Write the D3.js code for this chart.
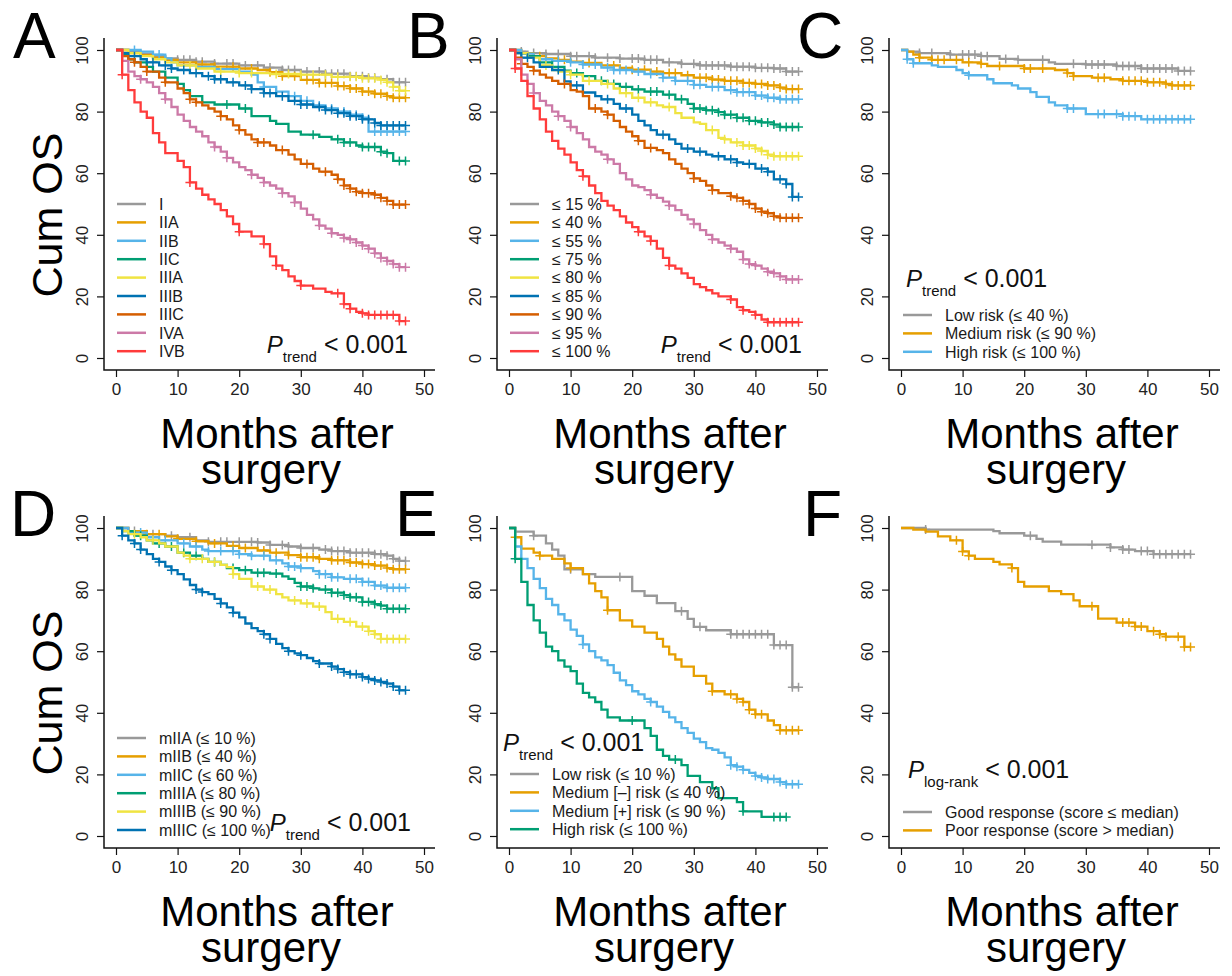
<!DOCTYPE html>
<html>
<head>
<meta charset="utf-8">
<script src="https://cdn.jsdelivr.net/npm/d3@7"></script>
<style>
  body { margin: 0; background: #fff; }
  text { font-family: "Liberation Sans", Arial, sans-serif; }
</style>
</head>
<body>
<script>
//////////DATA//////////
const monthTicks = [0, 10, 20, 30, 40, 50];
const osTicks = [0, 20, 40, 60, 80, 100];

// A : stage
const stageLabels = ["I", "IIA", "IIB", "IIC", "IIIA", "IIIB", "IIIC", "IVA", "IVB"];
const stageColors = ["#999999", "#E69F00", "#56B4E9", "#009E73", "#F0E442", "#0072B2", "#D55E00", "#CC79A7", "#FF3B3B"];
const stageEnd = [47, 47, 47, 47, 47, 47, 47, 47, 47];
const stageSteps = [
  [[2,99.5],[4,98.8],[6,98],[8,97.3],[10,96.8],[13,96.2],[16,95.6],[20,95],[24,94.3],[27,93.5],[30,93],[34,92.3],[38,91.5],[41,91],[43,90.5],[45,89.5]],
  [[2,99],[4,98.3],[6,97.5],[8,96.8],[10,96],[13,95.3],[16,94.6],[20,94],[23,93.5],[25,92.8],[27,91.5],[30,90.3],[33,89.3],[36,88.3],[38,87.5],[40,86.5],[42,85.8],[44,85],[45,84.5]],
  [[4,99.5],[6,98.5],[8,97.3],[9,96],[10,95],[13,94.5],[16,93.8],[20,93],[22,92],[23,89.5],[24,88],[26,86.5],[28,85],[30,83.5],[32,82],[34,81],[36,80],[38,79],[40,78],[41,73.5]],
  [[1,98.5],[2,97],[3,96],[5,94.5],[6,93],[8,91],[10,89],[11,87],[12,85],[14,83],[16,82.3],[20,81],[22,78.5],[25,77],[26,76],[28,73.5],[30,72.5],[33,71.8],[35,71],[37,70],[39,69],[40,68.5],[43,67],[44,66.5],[45,64]],
  [[2,99],[4,98],[6,97],[8,96],[10,95],[13,94],[16,93],[20,92.5],[25,92.2],[30,92],[35,91.3],[40,90.8],[43,90.3],[44,89.5],[45,88],[46,86.8]],
  [[1,99],[2,98],[4,97],[5,96],[7,95],[9,94],[10,93.5],[12,92.5],[14,91.5],[16,90.5],[18,89.5],[20,88.5],[22,87.3],[24,86],[26,85],[28,83.5],[30,82.3],[32,81.5],[34,80.5],[36,79.5],[38,78.5],[40,77.5],[42,76.3],[43,75.5]],
  [[1,98],[2,97],[3,96],[4,94.5],[5,93],[7,91],[8,89.5],[10,87.5],[11,86],[12,84],[13,83],[14,82],[15,81],[16,80],[17,78.5],[18,77.5],[19,75.5],[20,74],[21,72.5],[22,71],[23,70],[25,69],[26,67.5],[28,66],[29,64.5],[30,63],[32,61.5],[33,60.5],[35,59.5],[36,58],[37,56],[38,55],[39,54],[40,53.5],[42,53],[43,52],[44,51],[45,49.8]],
  [[1,96.5],[2,93],[3,91.5],[4,90.5],[5,89.5],[6,88],[7,86],[8,84],[9,81.5],[10,79],[11,77],[12,75],[13,73.5],[14,72],[15,70],[16,68.5],[17,67],[18,65],[19,63.5],[20,62],[21,61],[22,59.5],[23,58.5],[24,57],[25,56],[26,55],[27,53.5],[28,52.5],[29,50.5],[30,48.5],[31,46.5],[32,45],[33,43],[34,42],[35,40.5],[36,40],[37,39],[38,38.5],[39,37.5],[40,36.5],[41,35.5],[42,34],[43,32.5],[44,31.5],[45,30.5],[46,29.5]],
  [[1,92],[2,87],[3,83],[4,80],[5,78],[6,73],[7,70],[8,66.5],[10,64],[11,62],[12,57],[13,55],[14,53],[15,51.5],[16,50],[17,48],[18,46],[19,43.5],[20,41],[22,39.5],[24,37],[25,33],[26,30],[27,28.5],[28,26.5],[29,25],[30,23.5],[32,22.5],[34,21.5],[35,21],[37,17.5],[38,16],[39,15],[40,14.5],[41,14],[46,12]]
];
const stageCensor = [
  [10,11,12,13,14,16,18,19,21,23,25,27,28,29,31,33,34,35,36,37,38,39,40,41,42,44,45,46,47],
  [14,16,19,22,25,27,29,31,32,33,34,35,36,37,38,39,40,41,42,43,44,45,46,47],
  [3,7,24,29,31,33,35,37,38,39,40,42,43,44,45,46,47],
  [18,21,32,36,37,38,40,41,42,43,44,46,47],
  [12,17,20,22,26,28,30,32,34,36,38,39,40,41,42,43,44,45,46,47],
  [3,6,8,9,11,13,15,16,17,19,21,22,24,25,27,29,30,31,33,34,35,36,37,38,39,40,41,42,43,44,45,46,47],
  [3,5,8,12,13,17,20,23,24,27,31,34,36,37,38,39,40,41,42,43,44,45,46,47],
  [4,8,16,18,22,24,27,29,33,35,37,38,39,40,41,42,43,44,45,46,47],
  [1,12,20,24,26,30,36,37,38,40,41,42,43,44,45,46,47]
];

// B : percentile groups
const pctLabels = ["≤ 15 %", "≤ 40 %", "≤ 55 %", "≤ 75 %", "≤ 80 %", "≤ 85 %", "≤ 90 %", "≤ 95 %", "≤ 100 %"];
const pctColors = ["#999999", "#E69F00", "#56B4E9", "#009E73", "#F0E442", "#0072B2", "#D55E00", "#CC79A7", "#FF3B3B"];
const pctEnd = [47, 47, 47, 47, 47, 47, 47, 47, 47];
const pctSteps = [
  [[1,99.5],[3,99],[6,98.7],[10,98],[14,97.5],[18,97.2],[22,96.8],[25,96],[28,95.5],[31,95],[36,94.6],[40,94.2],[43,94],[45,93]],
  [[2,99],[4,98],[6,97.3],[8,96.8],[10,96.2],[12,95.8],[15,95],[18,94.2],[20,93.6],[23,93],[25,92.5],[28,91.8],[30,91],[33,90.4],[35,90],[38,89.3],[40,89],[42,88.5],[44,87.8],[45,87.3]],
  [[2,98.8],[4,98],[5,97],[7,96.5],[10,96],[12,95.3],[15,94.3],[17,93.5],[20,93],[22,92.2],[25,91],[27,90],[30,88.7],[32,88],[35,87],[37,86.3],[40,85.2],[42,84.5],[44,84]],
  [[1,99],[3,98],[5,96],[7,94.5],[9,93.3],[10,92.5],[12,91.5],[14,90],[16,89],[18,88],[20,87.2],[22,86.5],[25,85.5],[27,84],[29,82.5],[30,81],[32,80.4],[34,79.8],[35,79],[37,78],[39,77],[41,76.5],[43,75.8],[44,75]],
  [[1,99],[3,97.5],[5,95],[7,93.5],[8,93],[10,92],[12,90],[15,89],[17,87.5],[18,86],[20,84.5],[22,83],[24,82],[25,81.5],[27,79.5],[28,78],[30,76.5],[31,76],[32,74],[34,71.5],[35,71],[36,70],[38,69],[40,68],[41,67.2],[42,66],[43,65.5]],
  [[1,99],[2,97.5],[4,96],[5,94.5],[7,93.5],[9,89.8],[10,88.5],[12,86.2],[14,85],[15,84],[17,82.5],[18,81],[20,79],[21,77],[22,75.5],[23,74],[24,72.5],[26,71],[27,69.5],[28,68],[30,67],[32,66],[33,65.5],[35,64.5],[37,63.5],[38,63],[40,61.5],[42,60.5],[43,58],[45,56.5],[46,52.3]],
  [[1,97.5],[2,95.5],[3,94.5],[4,93.3],[5,92],[6,91],[7,90],[8,89],[10,87],[11,86.5],[12,85],[13,81],[15,80],[16,79],[17,77],[18,75],[19,73.5],[20,72],[21,70.5],[22,68.2],[24,67.5],[25,66.5],[26,64.5],[27,63],[28,61.5],[29,60],[30,58.3],[31,57.5],[32,56],[33,54.5],[34,53.5],[36,52.5],[37,52],[38,51],[39,50],[40,48.5],[41,47.5],[42,47],[43,46],[44,45.5]],
  [[1,97],[2,92],[3,89],[4,86],[5,83.5],[6,82],[7,80],[8,78.5],[9,77],[10,75],[11,73],[12,71],[13,68.5],[14,67],[15,66],[16,64.5],[17,63],[18,60],[19,58],[20,56],[21,55.5],[22,54.5],[23,53],[24,52],[25,50.8],[26,49.5],[27,48],[28,46.5],[29,45],[30,43.5],[31,41.5],[32,40],[33,38.5],[34,37.5],[35,36.5],[36,35.5],[37,34.5],[38,32],[39,30.5],[40,30],[41,29],[42,28],[43,27.5],[44,26.5],[45,25.5]],
  [[1,94],[2,90],[3,85],[4,81],[5,77.5],[6,73.5],[7,70.5],[8,68],[9,66],[10,63.5],[11,61],[12,59],[13,56],[14,53.5],[15,51],[16,49.5],[17,48],[18,46],[19,44],[20,42.5],[21,41],[22,39.5],[23,38],[24,35.5],[25,32.5],[26,30],[27,29],[28,27.5],[29,26],[30,24],[31,23],[32,22],[33,21],[34,20],[36,19],[37,16.5],[38,15.5],[39,15],[40,14],[41,12.5],[42,11.6]]
];
const pctCensor = [
  [2,4,6,8,10,11,13,14,16,18,20,21,22,23,24,26,28,30,31,32,33,34,35,36,37,38,39,40,41,42,43,44,45,46,47],
  [5,9,13,17,20,22,24,26,27,29,31,32,33,34,35,36,37,38,39,40,41,42,43,44,45,46,47],
  [6,8,10,12,14,16,17,18,19,21,23,25,27,29,30,31,33,34,36,37,38,39,40,41,42,43,44,45,46,47],
  [11,15,17,19,21,23,24,26,28,30,31,32,33,34,35,36,37,38,39,40,41,42,43,44,45,46,47],
  [6,10,13,16,19,21,23,26,33,35,37,38,39,40,41,42,43,44,45,46,47],
  [3,8,11,16,19,25,29,31,34,36,37,39,41,42,44,45,46,47],
  [2,4,9,14,16,21,23,30,33,36,37,38,39,40,41,42,43,44,45,46,47],
  [4,8,10,16,23,26,30,33,36,38,39,40,42,43,44,45,46,47],
  [1,12,21,23,26,36,38,40,42,43,44,45,46,47]
];

// C : three risk groups
const riskLabels = ["Low risk (≤ 40 %)", "Medium risk (≤ 90 %)", "High risk (≤ 100 %)"];
const riskColors = ["#999999", "#E69F00", "#56B4E9"];
const riskEnd = [47, 47, 47];
const riskSteps = [
  [[1,99.5],[3,99],[8,98.5],[13,98],[16,97.1],[19,96.8],[24,96],[25,95.5],[30,95.3],[35,94.8],[39,94],[45,93.2]],
  [[1,99.5],[2,98.5],[3,97.5],[5,96.8],[10,96],[13,95.5],[14,94.8],[20,94],[25,93.5],[27,92.5],[28,91.5],[31,91],[34,90.5],[36,90],[40,89.5],[43,89],[44,88.5]],
  [[1,97],[2,95.7],[5,95],[6,94.5],[9,93.5],[10,92.5],[11,91.8],[14,90.5],[15,89.2],[18,88.5],[19,87.5],[21,86.3],[22,84.8],[24,83],[25,82],[27,81],[30,79.2],[36,78.5],[39,77.5]]
];
const riskCensor = [
  [3,5,8,10,11,12,13,14,17,19,23,28,30,31,32,33,35,36,37,38,39,40,41,42,43,44,45,46,47],
  [3,5,6,7,9,11,13,16,20,21,23,27,28,32,33,36,37,38,39,40,41,42,43,44,45,46,47],
  [1,2,11,27,28,32,33,35,36,37,38,40,41,42,43,44,45,46,47]
];

// D : modified stage
const mstageLabels = ["mIIA (≤ 10 %)", "mIIB (≤ 40 %)", "mIIC (≤ 60 %)", "mIIIA (≤ 80 %)", "mIIIB (≤ 90 %)", "mIIIC (≤ 100 %)"];
const mstageColors = ["#999999", "#E69F00", "#56B4E9", "#009E73", "#F0E442", "#0072B2"];
const mstageEnd = [47, 47, 47, 47, 47, 47];
const mstageSteps = [
  [[2,99],[5,98],[8,97.5],[10,97],[13,96],[15,95.5],[23,95.3],[25,94.5],[28,94],[30,93.5],[33,93],[35,92.5],[38,92],[42,91.5],[44,91],[45,90],[46,89.3]],
  [[2,99],[5,98],[8,97.3],[10,96.5],[13,95.7],[15,95],[18,94.2],[20,93.5],[23,92.7],[25,92],[28,91.2],[30,90.5],[33,90],[35,89.5],[38,88.8],[40,88.3],[42,87.8],[44,87],[45,86.6]],
  [[2,98.5],[5,97],[7,96],[10,95],[12,94],[14,93],[15,92.5],[20,91.5],[22,91],[25,89.5],[27,88.5],[28,87.5],[30,87],[32,86],[33,85],[35,84],[37,83.5],[40,82.5],[42,81.3],[44,80.6]],
  [[1,99],[3,97.5],[5,96],[6,95],[8,94],[10,92],[12,91],[14,90],[15,89],[17,88],[18,87],[20,86.3],[22,85.5],[25,85.2],[27,84.3],[28,83.5],[29,82.2],[30,81],[32,80.4],[33,80],[35,79],[37,78.2],[38,77.5],[40,76],[42,75.3],[43,74.8],[44,73.8]],
  [[1,99],[2,98],[4,97],[5,96],[7,95],[8,94],[10,92],[11,91],[12,90],[15,89],[17,88],[18,87.3],[19,85],[20,83.5],[22,81],[24,80],[26,78.5],[27,77.5],[28,76.5],[30,75.5],[32,74.5],[34,72.7],[35,70.5],[37,69.5],[39,68],[41,66.5],[42,65.5],[43,64]],
  [[1,97.5],[2,96],[3,95],[4,93],[5,91.5],[6,90],[7,89],[8,87.5],[9,86.3],[10,85],[11,83.3],[12,81.5],[13,80],[14,79.2],[15,78.5],[16,77],[17,75.5],[18,74.2],[19,72.5],[20,71],[21,69],[22,67.5],[23,66.5],[24,65.5],[25,64],[26,62.4],[27,61],[28,60],[29,59.3],[30,58.7],[31,57.8],[32,56.8],[33,56],[35,55],[36,54.2],[37,53.2],[38,52.5],[40,51.6],[41,51],[42,50.5],[43,50],[44,49.5],[45,48.5],[46,47.3]]
];
const mstageCensor = [
  [3,6,9,12,15,17,18,20,22,23,25,27,28,30,32,34,35,36,37,38,39,40,41,42,43,44,45,46,47],
  [5,7,10,13,16,19,21,24,26,28,30,31,32,33,35,36,37,38,39,40,41,42,43,44,45,46,47],
  [4,8,11,13,15,17,19,20,22,24,26,28,29,30,33,34,35,36,38,39,40,41,42,43,44,45,46,47],
  [4,7,9,11,13,16,19,21,23,24,26,30,31,32,34,35,36,37,38,39,40,41,42,43,44,45,46,47],
  [3,6,12,14,16,19,23,25,29,31,33,36,38,40,41,42,43,44,45,46,47],
  [1,3,4,7,9,13,14,17,19,24,25,28,30,33,35,36,37,38,39,40,41,42,43,44,45,46,47]
];

// E : four risk groups
const risk4Labels = ["Low risk (≤ 10 %)", "Medium [–] risk (≤ 40 %)", "Medium [+] risk (≤ 90 %)", "High risk (≤ 100 %)"];
const risk4Colors = ["#999999", "#E69F00", "#56B4E9", "#009E73"];
const risk4End = [47, 47, 47, 45];
const risk4Steps = [
  [[1,98.8],[4,97.5],[6,95],[7,93],[8,91],[9,86.6],[12,85],[14,84.1],[20,79.5],[22,78],[24,75.6],[27,73],[29,70.5],[30,67.9],[32,66.8],[36,65.5],[43,62],[46,48.3]],
  [[1,97],[2,93.3],[4,92],[5,91],[7,90],[9,88.5],[10,87],[12,85],[13,82],[14,79.5],[15,77.5],[16,73.3],[18,70],[20,68],[22,66],[24,64],[25,61.5],[26,59],[27,57.3],[28,55],[30,52],[32,49.5],[33,47],[35,46],[37,44.5],[38,43.5],[39,41],[40,39.5],[42,37.5],[43,36],[44,34.3]],
  [[1,94],[2,90],[3,87],[4,83.5],[5,80.5],[6,77],[7,75],[8,72],[9,70],[10,67],[11,65],[12,62.2],[13,60],[14,58],[15,57],[16,55.5],[17,53],[18,50.5],[19,49],[20,47],[21,46],[22,44.5],[23,43.5],[24,42],[25,40.3],[26,38.5],[27,37],[28,35],[29,33.5],[30,31.6],[31,30.5],[32,28.5],[33,28],[34,27],[35,25.5],[36,23],[37,22.5],[38,21.5],[39,20.5],[40,19.5],[41,19],[42,18.5],[44,17.5],[45,16.8]],
  [[1,90],[2,82.5],[3,75],[4,70],[5,66],[6,61.5],[7,60],[8,57],[9,55],[10,53.5],[11,49.5],[12,46.5],[13,45],[14,43.5],[15,41],[16,38.5],[18,37.5],[22,35],[23,32.5],[24,28],[25,26],[26,24.8],[28,23],[29,19.5],[31,17.5],[33,15.5],[34,12.3],[37,11],[38,8],[41,6.2]]
];
const risk4Censor = [
  [4,10,18,28,31,36,37,38,39,40,41,42,43,44,45,46,47],
  [1,5,10,16,33,36,37,38,39,40,41,44,45,46,47],
  [2,12,23,36,37,38,40,41,42,43,44,45,46,47],
  [1,20,27,38,43,44,45]
];

// F : response
const respLabels = ["Good response (score ≤ median)", "Poor response (score > median)"];
const respColors = ["#999999", "#E69F00"];
const respEnd = [47, 47];
const respSteps = [
  [[4,99.5],[15,99],[16,98.3],[20,97.5],[22,96.5],[23,95.6],[26,94.6],[34,93.7],[36,93],[38,92.5],[41,91.5]],
  [[2,99.5],[4,98.8],[6,97.3],[8,96],[10,92.4],[11,91],[12,90],[15,89],[16,88.2],[18,87],[19,82.5],[20,81],[24,79.5],[26,78.5],[28,76.5],[29,74.6],[32,70.6],[35,69.3],[38,68],[40,66.5],[42,65.5],[43,64.7],[46,61.4]]
];
const respCensor = [
  [4,21,31,34,36,37,39,40,41,42,43,44,45,46,47],
  [9,10,11,18,31,36,37,38,39,41,42,43,45,46,47]
];

//////////LAYOUT//////////
const svgObj = { width: 1232, height: 976 };
const colX = [104, 497, 889]; // y-axis line of each column
const rowY = [38, 516]; // top of y-axis line of each row

const panels = [
  { letter: "A", col: 0, row: 0, letterX: 13, labels: stageLabels, colors: stageColors, steps: stageSteps, censor: stageCensor, end: stageEnd,
    legendX: 13, legendY: 166, pAnchor: "end", pX: 304, pY: 315, sub: "trend", yTitle: true },
  { letter: "B", col: 1, row: 0, letterX: 407, labels: pctLabels, colors: pctColors, steps: pctSteps, censor: pctCensor, end: pctEnd,
    legendX: 13, legendY: 166, pAnchor: "end", pX: 305, pY: 315, sub: "trend" },
  { letter: "C", col: 2, row: 0, letterX: 797, labels: riskLabels, colors: riskColors, steps: riskSteps, censor: riskCensor, end: riskEnd,
    legendX: 14, legendY: 277, pAnchor: "start", pX: 17, pY: 249, sub: "trend" },
  { letter: "D", col: 0, row: 1, letterX: 10, labels: mstageLabels, colors: mstageColors, steps: mstageSteps, censor: mstageCensor, end: mstageEnd,
    legendX: 13, legendY: 222, pAnchor: "end", pX: 307, pY: 315, sub: "trend", yTitle: true },
  { letter: "E", col: 1, row: 1, letterX: 395, labels: risk4Labels, colors: risk4Colors, steps: risk4Steps, censor: risk4Censor, end: risk4End,
    legendX: 13, legendY: 258, pAnchor: "start", pX: 6, pY: 235, sub: "trend" },
  { letter: "F", col: 2, row: 1, letterX: 803, labels: respLabels, colors: respColors, steps: respSteps, censor: respCensor, end: respEnd,
    legendX: 14, legendY: 296, pAnchor: "start", pX: 19, pY: 262, sub: "log-rank" }
];

const svg = d3
  .select("body")
  .append("svg")
  .attr("width", svgObj.width)
  .attr("height", svgObj.height);

const survAt = (steps, t) => {
  let s = 100;
  steps.forEach((d) => {
    if (d[0] <= t) s = d[1];
  });
  return s;
};

const drawPanel = (p) => {
  const ax = colX[p.col];
  const top = rowY[p.row];
  const bottom = top + 332;

  const x = d3.scaleLinear().domain([0, 50]).range([ax + 12, ax + 320]);
  const y = d3.scaleLinear().domain([0, 100]).range([top + 320, top + 12]);

  const g = svg.append("g");

  // x axis
  const xAxis = g
    .append("g")
    .attr("transform", `translate(0, ${bottom})`)
    .call(d3.axisBottom(x).tickValues(monthTicks).tickSize(7).tickSizeOuter(0));
  xAxis.select(".domain").remove();
  xAxis.selectAll("line").attr("stroke", "#111").attr("stroke-width", 1.2);
  xAxis
    .selectAll("text")
    .attr("y", 25)
    .attr("dy", null)
    .attr("fill", "#222")
    .style("font-size", "17px")
    .style("font-family", "Liberation Sans, Arial, sans-serif");

  // y axis
  const yAxis = g
    .append("g")
    .attr("transform", `translate(${ax}, 0)`)
    .call(d3.axisLeft(y).tickValues(osTicks).tickSize(7).tickSizeOuter(0));
  yAxis.select(".domain").remove();
  yAxis.selectAll("line").attr("stroke", "#111").attr("stroke-width", 1.2);
  yAxis
    .selectAll("text")
    .attr("x", null)
    .attr("dy", null)
    .attr("text-anchor", "middle")
    .attr("transform", "translate(-16, 0) rotate(-90)")
    .attr("fill", "#222")
    .style("font-size", "17px")
    .style("font-family", "Liberation Sans, Arial, sans-serif");

  // L shaped box
  g.append("path")
    .attr("d", `M${ax},${top} V${bottom} H${ax + 331}`)
    .attr("fill", "none")
    .attr("stroke", "#111")
    .attr("stroke-width", 1.5);

  // curves
  const line = d3
    .line()
    .x((d) => x(d[0]))
    .y((d) => y(d[1]))
    .curve(d3.curveStepAfter);

  p.steps.forEach((steps, i) => {
    const last = steps[steps.length - 1][1];
    const pts = [[0, 100]].concat(steps).concat([[p.end[i], last]]);
    g.append("path")
      .attr("d", line(pts))
      .attr("fill", "none")
      .attr("stroke", p.colors[i])
      .attr("stroke-width", 2.3);

    p.censor[i].forEach((t) => {
      const cx = x(t);
      const cy = y(survAt(steps, t));
      g.append("path")
        .attr("d", `M${cx - 4.5},${cy} H${cx + 4.5} M${cx},${cy - 4.5} V${cy + 4.5}`)
        .attr("stroke", p.colors[i])
        .attr("stroke-width", 1.5);
    });
  });

  // legend
  p.labels.forEach((lab, i) => {
    const ly = top + p.legendY + i * 18.4;
    g.append("line")
      .attr("x1", ax + p.legendX)
      .attr("x2", ax + p.legendX + 29)
      .attr("y1", ly)
      .attr("y2", ly)
      .attr("stroke", p.colors[i])
      .attr("stroke-width", 2.5);
    g.append("text")
      .attr("x", ax + p.legendX + 42)
      .attr("y", ly + 5.8)
      .attr("fill", "#1a1a1a")
      .style("font-size", "16px")
      .text(lab);
  });

  // p value
  const pt = g
    .append("text")
    .attr("x", ax + p.pX)
    .attr("y", top + p.pY)
    .attr("text-anchor", p.pAnchor)
    .attr("fill", "#111")
    .style("font-size", "24px");
  pt.append("tspan").style("font-style", "italic").text("P");
  pt.append("tspan").attr("dy", 9).style("font-size", "15px").text(p.sub);
  pt.append("tspan").attr("dy", -9).style("font-size", "25px").text("\u00A0< 0.001");

  // panel letter
  svg
    .append("text")
    .attr("x", p.letterX)
    .attr("y", top + 20)
    .style("font-size", "64px")
    .attr("fill", "#000")
    .text(p.letter);

  // x title, two lines
  const xt = g
    .append("text")
    .attr("text-anchor", "middle")
    .style("font-size", "42px");
  xt.append("tspan").attr("x", ax + 173).attr("y", top + 410).text("Months after");
  xt.append("tspan").attr("x", ax + 167).attr("y", top + 446).text("surgery");

  // y title
  if (p.yTitle) {
    g.append("text")
      .attr("text-anchor", "middle")
      .attr("transform", `translate(62, ${top + 177}) rotate(-90)`)
      .style("font-size", "43px")
      .text("Cum OS");
  }
};

panels.forEach(drawPanel);
</script>
</body>
</html>
